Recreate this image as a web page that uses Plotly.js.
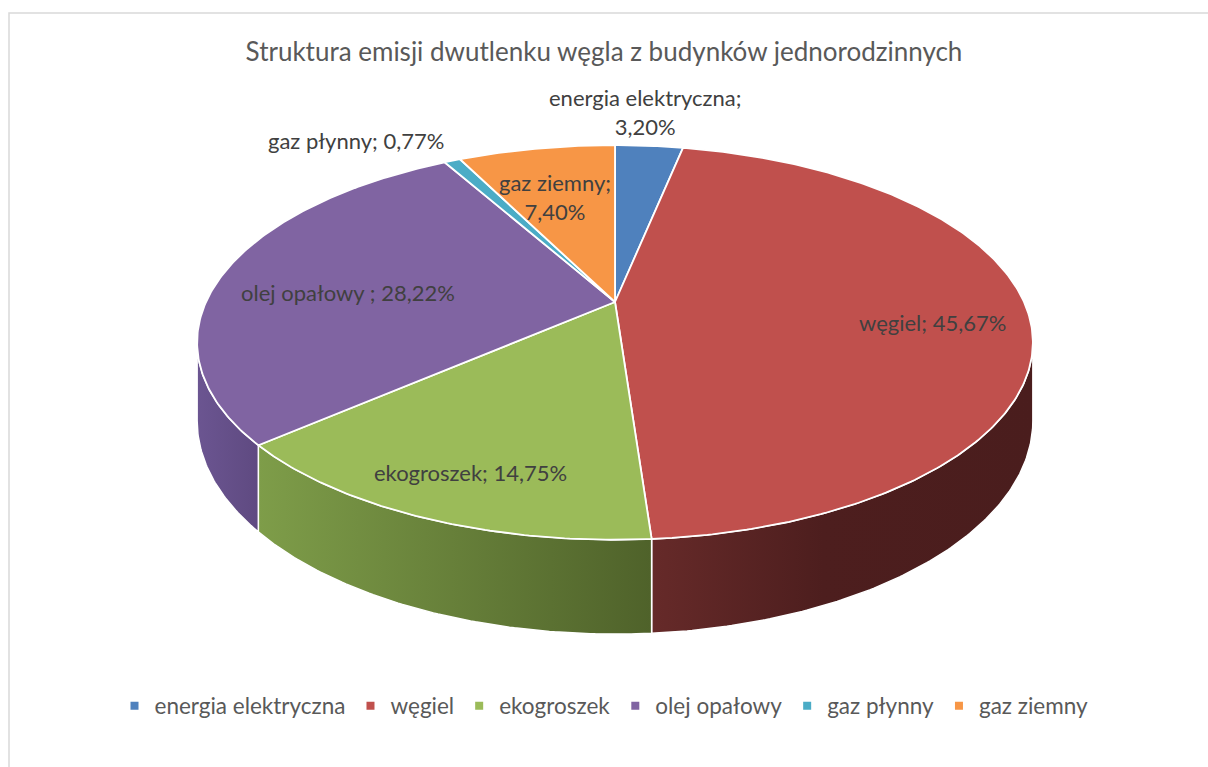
<!DOCTYPE html>
<html>
<head>
<meta charset="utf-8">
<script src="https://cdn.plot.ly/plotly-3.0.1.min.js"></script>
<style>html,body{margin:0;padding:0;background:#fff;}#chart{width:1208px;height:767px;}</style>
</head>
<body>
<div id="chart"></div>
<script>
// ---- data ----
const categories = ['energia elektryczna', 'węgiel', 'ekogroszek', 'olej opałowy', 'gaz płynny', 'gaz ziemny'];
const values = [3.20, 45.67, 14.75, 28.22, 0.77, 7.40];
const labelNames = ['energia elektryczna;', 'węgiel;', 'ekogroszek;', 'olej opałowy ;', 'gaz płynny;', 'gaz ziemny;'];
const titleText = 'Struktura emisji dwutlenku węgla z budynków jednorodzinnych';

// ---- style ----
const topColors = ['#4F81BD', '#C0504D', '#9BBB59', '#8064A2', '#4BACC6', '#F79646'];
const sideScales = [
  [[0, '#3d6390'], [1, '#2f4d70']],
  [[0, '#662a29'], [0.45, '#4d1e1e'], [1, '#4a1d1d']],
  [[0, '#7e9d49'], [1, '#4f622a']],
  [[0, '#6b5591'], [1, '#5f4a81']],
  [[0, '#3a8597'], [1, '#2d6876']],
  [[0, '#c0742f'], [1, '#a05f25']]
];
const FONT = 'Lato, "Open Sans", sans-serif';

// ---- 3D-pie projection (layout geometry) ----
const W = 1208, H = 767;
const cx = 615, cy = 302, rx = 409, ry = 189, persp = 0.205, depth = 75;
function proj(theta, down) {
  const c = Math.sin(theta), s = -Math.cos(theta);
  const w = 1 - persp * s;
  return [cx + rx * c / w, cy + (ry * s + down) / w];
}
const total = values.reduce((a, b) => a + b, 0);
const bounds = [];
let acc = 0;
values.forEach(v => { const a0 = acc / total * 2 * Math.PI; acc += v; bounds.push([a0, acc / total * 2 * Math.PI]); });

const thVis0 = Math.acos(-persp), thVis1 = 2 * Math.PI - Math.acos(-persp);
const traces = [];
const STEP = 0.01;
function arc(a0, a1, down) {
  const pts = [];
  const n = Math.max(2, Math.ceil((a1 - a0) / STEP));
  for (let i = 0; i <= n; i++) pts.push(proj(a0 + (a1 - a0) * i / n, down));
  return pts;
}
// side walls
bounds.forEach(([a0, a1], i) => {
  const s0 = Math.max(a0, thVis0), s1 = Math.min(a1, thVis1);
  if (s1 <= s0) return;
  const top = arc(s0, s1, 0), bot = arc(s0, s1, depth).reverse();
  const pts = top.concat(bot); pts.push(top[0]);
  traces.push({
    type: 'scatter', mode: 'lines', x: pts.map(p => p[0]), y: pts.map(p => p[1]),
    fill: 'toself', fillcolor: topColors[i],
    fillgradient: { type: 'horizontal', colorscale: sideScales[i] },
    line: { color: '#ffffff', width: 1.5 }, showlegend: false, hoverinfo: 'skip'
  });
});
// top faces
bounds.forEach(([a0, a1], i) => {
  const pts = [[cx, cy]].concat(arc(a0, a1, 0)); pts.push([cx, cy]);
  traces.push({
    type: 'scatter', mode: 'lines', x: pts.map(p => p[0]), y: pts.map(p => p[1]),
    fill: 'toself', fillcolor: topColors[i],
    line: { color: '#ffffff', width: 1.8 }, showlegend: false, hoverinfo: 'skip'
  });
});
// legend entries
categories.forEach((name, i) => {
  traces.push({
    type: 'scatter', mode: 'markers', x: [null], y: [null], name: name,
    marker: { symbol: 'square', size: 8, color: topColors[i] }, showlegend: true
  });
});

function fmt(v) { return v.toFixed(2).replace('.', ',') + '%'; }
const labelPos = [[645, 112, true], [932, 322, false], [470, 472, false], [348, 292, false], [356, 140, false], [555, 197, true]];
const annotations = categories.map((c, i) => ({
  x: labelPos[i][0], y: labelPos[i][1], xref: 'x', yref: 'y', showarrow: false,
  text: labelNames[i] + (labelPos[i][2] ? '<br>' : ' ') + fmt(values[i]),
  font: { family: FONT, size: 22, color: '#404040' }, align: 'center'
}));

const layout = {
  width: W, height: H, margin: { l: 0, r: 0, t: 0, b: 0 },
  paper_bgcolor: '#ffffff', plot_bgcolor: '#ffffff',
  title: { text: titleText, font: { family: FONT, size: 26, color: '#595959' }, x: 0.5, xanchor: 'center', y: 1 - 52 / H, yanchor: 'middle' },
  xaxis: { range: [0, W], visible: false, fixedrange: true },
  yaxis: { range: [H, 0], visible: false, fixedrange: true },
  showlegend: true,
  legend: { orientation: 'h', x: 0.5, xanchor: 'center', y: 1 - 706 / H, yanchor: 'middle', font: { family: FONT, size: 22.5, color: '#595959' }, itemclick: false, itemdoubleclick: false },
  annotations: annotations,
  shapes: [{ type: 'rect', xref: 'x', yref: 'y', x0: 9, y0: 13, x1: W + 10, y1: H + 10, line: { color: '#d9d9d9', width: 1.5 }, fillcolor: 'rgba(0,0,0,0)', layer: 'below' }],
  hovermode: false
};
Plotly.newPlot('chart', traces, layout, { displayModeBar: false, staticPlot: true });
</script>
</body>
</html>
